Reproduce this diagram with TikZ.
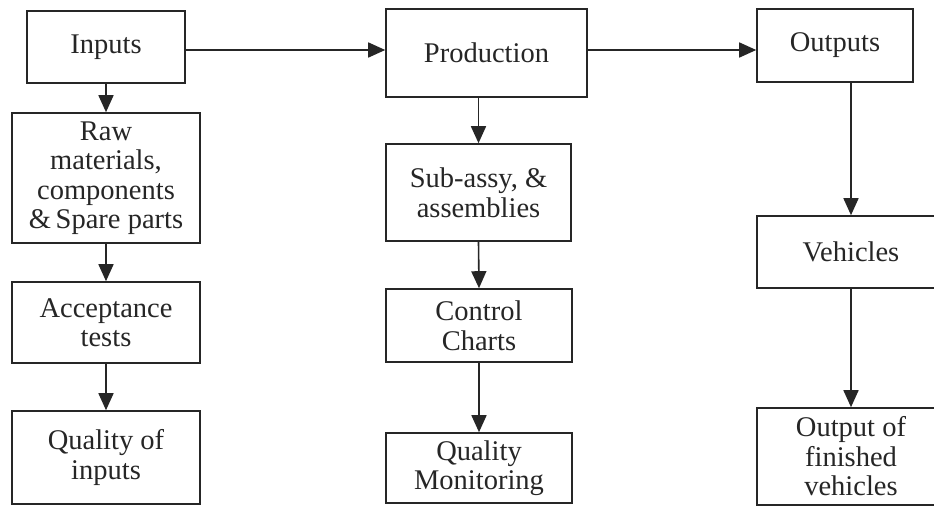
\documentclass[tikz,border=0pt]{standalone}
\usepackage{fontspec}
\setmainfont{Liberation Serif}
\usetikzlibrary{arrows.meta}
\tikzset{
  box/.style={draw=black!85, line width=1.6pt, rectangle, align=center, inner sep=0pt,
              font=\fontsize{28.5}{29.5}\selectfont, text=black!85},
  arr/.style={draw=black!85, line width=1.6pt, -{Triangle[length=17pt,width=15pt]}},
}
\begin{document}
\begin{tikzpicture}[x=1pt,y=-1pt]
\clip (0,0) rectangle (934,506);
\fill[white] (0,0) rectangle (934,506);
% column 1
\node[box, minimum width=158pt, minimum height=72pt] (inp) at (106,47) {Inputs};
\node[box, minimum width=188pt, minimum height=130pt] (raw) at (106,178) {Raw\\materials,\\components\\\&\,Spare parts};
\node[box, minimum width=188pt, minimum height=81pt] (acc) at (106,322.5) {Acceptance\\tests};
\node[box, minimum width=188pt, minimum height=93pt] (qin) at (106,457.5) {Quality of\\inputs};
% column 2
\node[box, minimum width=201pt, minimum height=88pt] (prod) at (486.5,53) {Production};
\node[box, minimum width=185pt, minimum height=97pt] (sub) at (478.5,192.5) {Sub-assy, \&\\assemblies};
\node[box, minimum width=186pt, minimum height=73pt] (ctl) at (479,325.5) {Control\\Charts};
\node[box, minimum width=186pt, minimum height=70pt] (qm) at (479,468) {Quality\\Monitoring};
% column 3
\node[box, minimum width=156pt, minimum height=73pt] (out) at (835,45.5) {Outputs};
\node[box, minimum width=188pt, minimum height=72pt] (veh) at (851,252) {Vehicles};
\node[box, minimum width=188pt, minimum height=97pt] (fin) at (851,456.5) {Output of\\finished\\vehicles};
% horizontal connectors
\draw[arr] ([yshift=-3pt]inp.east) -- ([yshift=3pt]prod.west);
\draw[arr] ([yshift=3pt]prod.east) -- ([yshift=-4.5pt]out.west);
% vertical connectors
\draw[arr] (inp.south) -- (raw.north);
\draw[arr] (raw.south) -- (acc.north);
\draw[arr] (acc.south) -- (qin.north);
\draw[arr] (prod.south -| sub.north) -- (sub.north);
\draw[arr] (sub.south) -- (ctl.north);
\draw[arr] (ctl.south) -- (qm.north);
\draw[arr] (out.south -| veh.north) -- (veh.north);
\draw[arr] (veh.south) -- (fin.north);
\end{tikzpicture}
\end{document}
